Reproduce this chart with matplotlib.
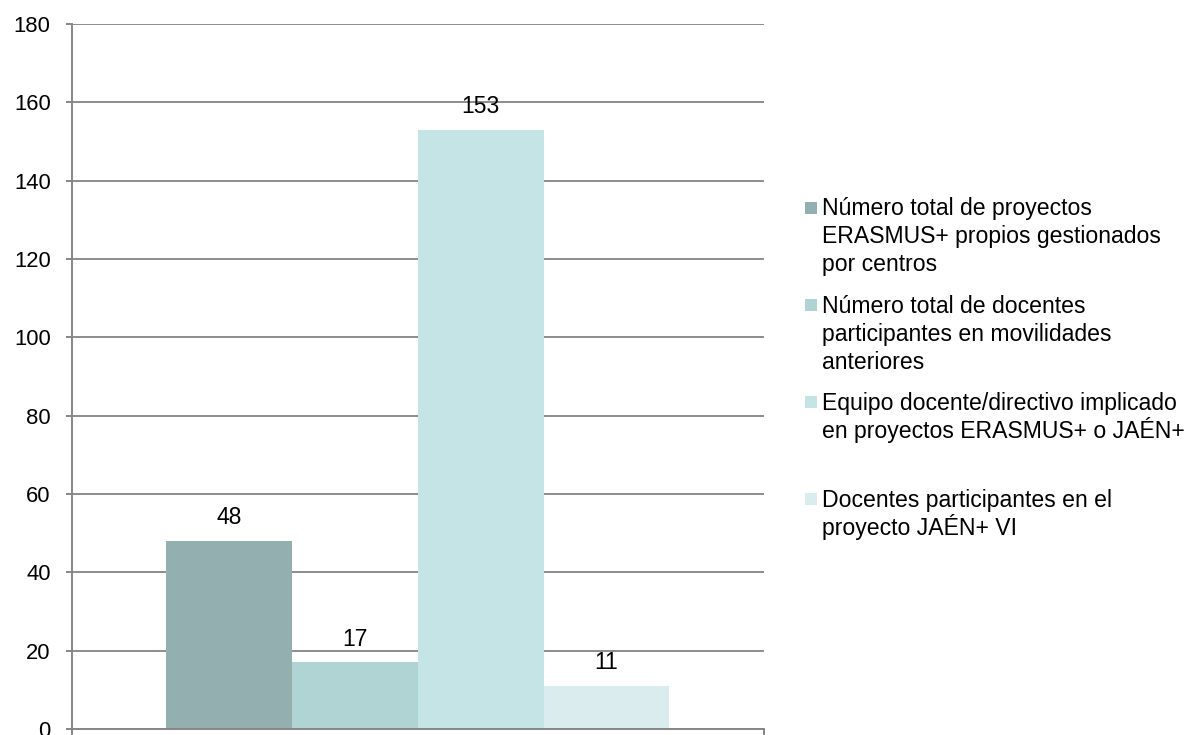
import matplotlib
matplotlib.use("Agg")
import matplotlib.pyplot as plt
from matplotlib.patches import Rectangle

plt.rcParams['font.family'] = ['Liberation Sans', 'DejaVu Sans']

series = [
    "Número total de proyectos\nERASMUS+ propios gestionados\npor centros",
    "Número total de docentes\nparticipantes en movilidades\nanteriores",
    "Equipo docente/directivo implicado\nen proyectos ERASMUS+ o JAÉN+",
    "Docentes participantes en el\nproyecto JAÉN+ VI",
]
values = [48, 17, 153, 11]
colors = ["#93AFB0", "#B0D3D4", "#C5E4E6", "#DAECEE"]
yticks = [0, 20, 40, 60, 80, 100, 120, 140, 160, 180]

W, H = 1202, 735
fig = plt.figure(figsize=(W / 100, H / 100), dpi=100)
ax = fig.add_axes([71.5 / W, 1 - 729 / H, (764 - 71.5) / W, (729 - 24) / H])

n = len(values)
bw = 0.727 / n
for i, (v, c) in enumerate(zip(values, colors)):
    x = (i - (n - 1) / 2) * bw
    ax.bar(x, v, width=bw, color=c, linewidth=0, zorder=3)
    ax.annotate(str(v), (x, v), xytext=(0, 11.9), textcoords="offset points",
                ha="center", va="baseline", fontsize=16.5, color="#000000")

ax.set_xlim(-0.5, 0.5)
ax.set_ylim(0, 180)
ax.set_yticks(yticks)
ax.set_yticklabels([str(t) for t in yticks])
ax.set_xticks([-0.5, 0.5])
ax.set_xticklabels([])
ax.tick_params(axis="y", length=4.5, width=1.4, color="#868686", pad=10.5,
               labelsize=15.8, labelcolor="#000000")
ax.tick_params(axis="x", length=4.5, width=1.4, color="#868686")
ax.yaxis.grid(True, color="#8C8C8C", linewidth=1.4, zorder=0)
ax.set_axisbelow(True)
for s in ["top", "right"]:
    ax.spines[s].set_visible(False)
for s in ["left", "bottom"]:
    ax.spines[s].set_color("#868686")
    ax.spines[s].set_linewidth(1.4)
    ax.spines[s].set_zorder(4)

# legend (manual, handle aligned with first line of each label)
base0 = 215.5
step = 97.3
line_px = 28
for i, (lab, c) in enumerate(zip(series, colors)):
    yb = base0 + i * step
    fig.patches.append(Rectangle((805 / W, 1 - (yb - 2) / H), 12 / W, 12 / H,
                                 transform=fig.transFigure, facecolor=c,
                                 edgecolor="none"))
    for k, line in enumerate(lab.split("\n")):
        fig.text(822.5 / W, 1 - (yb + k * line_px) / H, line, ha="left",
                 va="baseline", fontsize=16.6, color="#000000")

fig.savefig("out.png", dpi=100)
